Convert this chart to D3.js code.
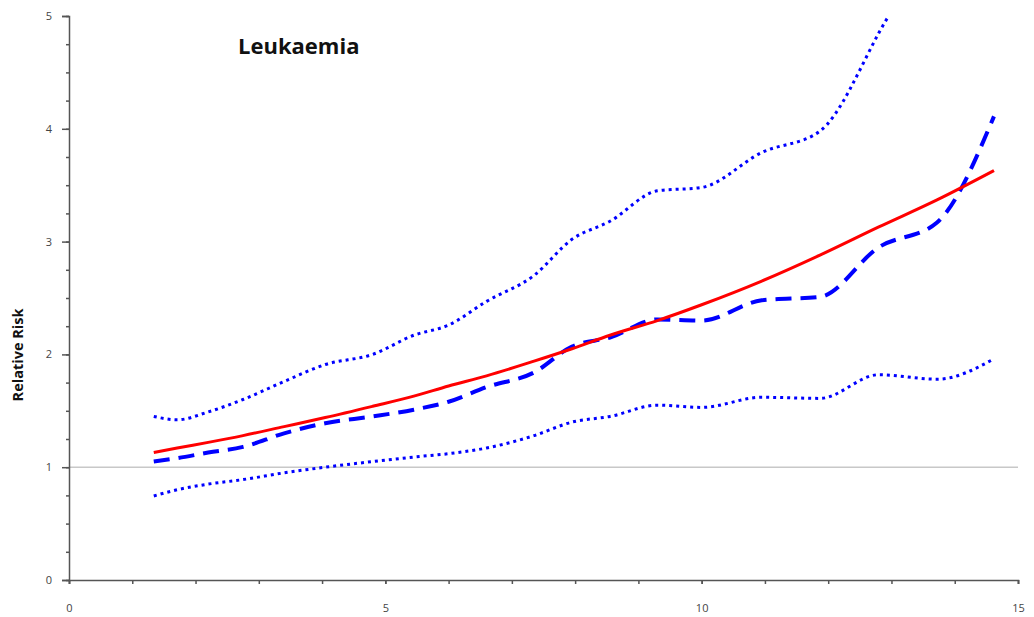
<!DOCTYPE html>
<html>
<head>
<meta charset="utf-8">
<script src="https://cdn.jsdelivr.net/npm/d3@7"></script>
<style>
  body { margin: 0; background: #fff; }
  text { font-family: "Open Sans", "DejaVu Sans", sans-serif; }
</style>
</head>
<body>
<div id="chart"></div>
<script>
// values
const years = [1.34, 1.71, 2.2, 2.75, 3.4, 4.05, 4.8, 5.45, 6.0, 6.6, 7.35, 7.95, 8.55, 9.3, 10.0, 10.95, 11.87, 12.8, 13.72, 14.62];
const fitted = [1.13, 1.17, 1.22, 1.28, 1.36, 1.44, 1.54, 1.63, 1.72, 1.81, 1.94, 2.05, 2.17, 2.30, 2.44, 2.65, 2.88, 3.13, 3.37, 3.63];
const observed = [1.05, 1.08, 1.13, 1.18, 1.30, 1.39, 1.45, 1.51, 1.58, 1.71, 1.84, 2.07, 2.15, 2.31, 2.30, 2.48, 2.51, 2.95, 3.17, 4.11];
const upperCI = [1.45, 1.42, 1.49, 1.60, 1.76, 1.91, 2.00, 2.17, 2.26, 2.47, 2.70, 3.02, 3.18, 3.45, 3.48, 3.79, 3.98, 4.85, 5.9, 8.2];
const lowerCI = [0.745, 0.80, 0.85, 0.89, 0.95, 1.00, 1.05, 1.09, 1.12, 1.17, 1.28, 1.40, 1.45, 1.55, 1.53, 1.62, 1.61, 1.82, 1.78, 1.96];
const xTickLabels = [0, 5, 10, 15];
const yTickLabels = [0, 1, 2, 3, 4, 5];

const width = 1034, height = 617;
const margin = {top: 16, right: 16, bottom: 37, left: 69};

const svg = d3.select("#chart").append("svg")
  .attr("width", width).attr("height", height);

/*-----Scales-----*/
const x = d3.scaleLinear().domain([0, 15]).range([margin.left, width - margin.right]);
const y = d3.scaleLinear().domain([0, 5]).range([height - margin.bottom, margin.top]);

svg.append("defs").append("clipPath").attr("id", "plotClip")
  .append("rect")
  .attr("x", margin.left).attr("y", margin.top)
  .attr("width", width - margin.left - margin.right)
  .attr("height", height - margin.top - margin.bottom);

// reference line at RR = 1
svg.append("line")
  .attr("x1", x(0)).attr("x2", x(15))
  .attr("y1", y(1)).attr("y2", y(1))
  .attr("stroke", "#c8c8c8").attr("stroke-width", 1.5);

/*-----Axes-----*/
const axisColor = "#555";

const yAxis = svg.append("g").attr("transform", "translate(" + margin.left + ",0)");
yAxis.append("g")
  .call(d3.axisLeft(y).tickValues(d3.range(0, 5.01, 0.25)).tickSize(3).tickFormat(""))
  .call(g => g.select(".domain").remove());
yAxis.append("g")
  .call(d3.axisLeft(y).tickValues(yTickLabels).tickSize(7).tickPadding(10).tickFormat(d3.format("d")))
  .call(g => g.select(".domain").attr("stroke", axisColor).attr("stroke-width", 1.5));
yAxis.selectAll("line").attr("stroke", axisColor).attr("stroke-width", 1.5);
yAxis.selectAll("text").attr("fill", "#444").style("font-size", "11px");

const xAxis = svg.append("g").attr("transform", "translate(0," + (height - margin.bottom) + ")");
xAxis.append("g")
  .call(d3.axisBottom(x).tickValues(d3.range(0, 16, 1)).tickSize(4).tickFormat(""))
  .call(g => g.select(".domain").remove());
xAxis.append("g")
  .call(d3.axisBottom(x).tickValues(xTickLabels).tickSize(4).tickPadding(20).tickFormat(d3.format("d")))
  .call(g => g.select(".domain").attr("stroke", axisColor).attr("stroke-width", 1.5));
xAxis.selectAll("line").attr("stroke", axisColor).attr("stroke-width", 1.5);
xAxis.selectAll("text").attr("fill", "#444").style("font-size", "11px");

/*-----Lines-----*/
function lineFor(values) {
  return d3.line()
    .x((d, i) => x(years[i]))
    .y(d => y(d))
    .curve(d3.curveMonotoneX)(values);
}

const plot = svg.append("g").attr("clip-path", "url(#plotClip)");

[upperCI, lowerCI].forEach(series => {
  plot.append("path")
    .attr("d", lineFor(series))
    .attr("fill", "none")
    .attr("stroke", "#0000ff")
    .attr("stroke-width", 3)
    .attr("stroke-dasharray", "3 4");
});

plot.append("path")
  .attr("d", lineFor(observed))
  .attr("fill", "none")
  .attr("stroke", "#0000ff")
  .attr("stroke-width", 4)
  .attr("stroke-dasharray", "16 9");

plot.append("path")
  .attr("d", lineFor(fitted))
  .attr("fill", "none")
  .attr("stroke", "#ff0000")
  .attr("stroke-width", 3);

/*-----Labels-----*/
svg.append("text")
  .attr("x", 238).attr("y", 54)
  .style("font-size", "22px").style("font-weight", "bold")
  .attr("fill", "#111")
  .text("Leukaemia");

svg.append("text")
  .attr("transform", "translate(23," + 355 + ") rotate(-90)")
  .attr("text-anchor", "middle")
  .style("font-size", "14.5px").style("font-weight", "bold")
  .attr("fill", "#111")
  .text("Relative Risk");
</script>
</body>
</html>
